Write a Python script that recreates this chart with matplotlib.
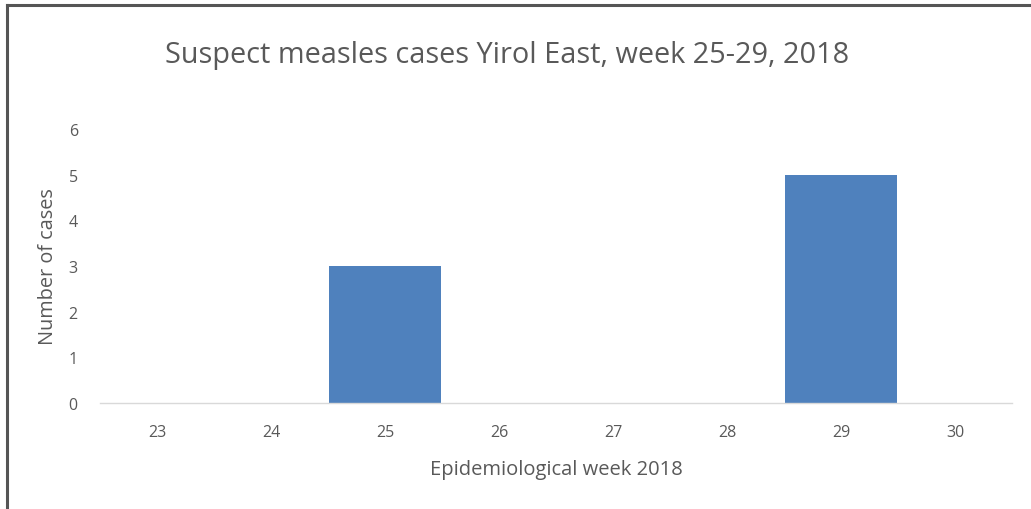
import matplotlib
matplotlib.use("Agg")
import matplotlib.pyplot as plt
from matplotlib.lines import Line2D

weeks = ["23", "24", "25", "26", "27", "28", "29", "30"]
cases = [0, 0, 3, 0, 0, 0, 5, 0]
yticks = [0, 1, 2, 3, 4, 5, 6]

title = "Suspect measles cases Yirol East, week 25-29, 2018"
xlabel = "Epidemiological week 2018"
ylabel = "Number of cases"

plt.rcParams['font.family'] = ['Open Sans', 'DejaVu Sans']
W, H = 1031, 510
fig = plt.figure(figsize=(W / 100, H / 100), dpi=100)
ax = fig.add_axes([100 / W, 106 / H, (1012 - 100) / W, (380 - 106) / H])

txt = "#595959"
x = list(range(len(weeks)))
ax.bar(x, cases, width=0.99, color="#4f81bd", zorder=2)
ax.set_xlim(-0.5, len(weeks) - 0.5)
ax.set_ylim(0, 6)
ax.set_xticks(x)
ax.set_xticklabels(weeks)
ax.set_yticks(yticks)
ax.tick_params(axis='both', length=0, labelsize=11.5, colors=txt)
ax.tick_params(axis='x', pad=15)
ax.tick_params(axis='y', pad=16)
for s in ["left", "right", "top"]:
    ax.spines[s].set_visible(False)
ax.spines["bottom"].set_color("#d9d9d9")
ax.spines["bottom"].set_linewidth(1.0)

ax.set_xlabel(xlabel, fontsize=14.5, color=txt, labelpad=14)
ax.set_ylabel(ylabel, fontsize=14.3, color=txt, labelpad=8)
fig.text(507 / W, 1 - 56 / H, title, ha="center", va="center", fontsize=20.8, color=txt)

# frame lines at top and left
fig.add_artist(Line2D([7 / W, 1.0], [1 - 6 / H, 1 - 6 / H], color="#555555", lw=2.2, transform=fig.transFigure))
fig.add_artist(Line2D([7 / W, 7 / W], [0, 1 - 6 / H], color="#555555", lw=2.2, transform=fig.transFigure))

fig.savefig("out.png", dpi=100)
